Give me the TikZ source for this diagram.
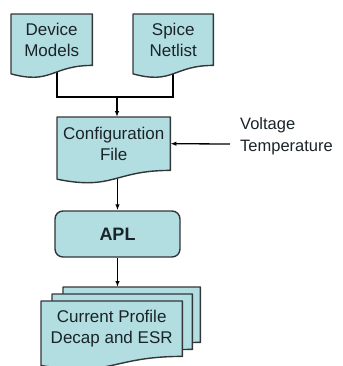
\documentclass[tikz,border=0pt]{standalone}
\usepackage{fontspec}
\setmainfont{Liberation Sans}
\usetikzlibrary{calc,arrows.meta}
\pgfdeclarelayer{bg}\pgfdeclarelayer{mid}
\pgfsetlayers{bg,mid,main}
\definecolor{boxfill}{RGB}{178,222,226}
\definecolor{boxline}{RGB}{50,54,56}
\definecolor{txt}{RGB}{26,36,40}
\tikzset{
  docline/.style={draw=boxline, line width=1.4bp, fill=boxfill, line join=round},
  docnode/.style={anchor=north west, inner sep=0pt, align=center, text=txt,
    font=\fontsize{17bp}{21bp}\selectfont},
  aplbox/.style={draw=boxline, line width=1.4bp, fill=boxfill, rounded corners=8bp,
    minimum width=125bp, minimum height=46bp, inner sep=0pt, text=txt,
    font=\fontsize{18bp}{21bp}\selectfont\bfseries},
  sidetext/.style={anchor=west, inner sep=0pt, align=left, text=txt,
    font=\fontsize{16.5bp}{22bp}\selectfont},
  arr/.style={draw=black, line width=1.3bp, -{Latex[length=6bp,width=4.5bp]}},
  joinline/.style={draw=black, line width=2.6bp, line join=miter}
}
\newcommand\docshape[1]{%
  \begin{pgfonlayer}{mid}
    \draw[docline] (#1.north west) -- (#1.north east) -- (#1.south east)
      .. controls (#1.south) and ($(#1.north)!1.38!(#1.south)$) ..
      ($(#1.north west)!1.1646!(#1.south west)$) -- cycle;
  \end{pgfonlayer}}
\begin{document}
\begin{tikzpicture}[x=1bp,y=-1bp]
  \useasboundingbox (0,0) rectangle (343,366);
  % documents
  \node[docnode, minimum width=81bp, minimum height=51bp] (dev) at (11,14) {Device\\Models};
  \node[docnode, minimum width=80bp, minimum height=51bp] (spi) at (133,14) {Spice\\Netlist};
  \node[docnode, minimum width=113bp, minimum height=53bp] (conf) at (57,117) {Configuration\\File};
  \node[docnode, minimum width=137bp, minimum height=55bp] (back) at (63,287) {};
  \node[docnode, minimum width=140bp, minimum height=55bp] (midd) at (52,294) {};
  \node[docnode, minimum width=141bp, minimum height=55bp] (front) at (41,301) {Current Profile\\Decap and ESR};
  \docshape{dev}
  \docshape{spi}
  \docshape{conf}
  \docshape{back}
  \docshape{midd}
  \docshape{front}
  % APL
  \node[aplbox] (apl) at (117.5,234) {APL};
  % side text
  \node[sidetext] (vt) at (240,136) {Voltage\\Temperature};
  \coordinate (vin) at (230,144);
  \coordinate (m) at (117,97);
  % connectors
  \begin{pgfonlayer}{bg}
    \draw[joinline] ([xshift=5.5bp]dev.center) |- (spi.center |- m) -- (spi.center);
    \draw[arr] (m) -- (m |- conf.north);
    \draw[arr] (apl.north |- conf.center) -- (apl.north);
    \draw[arr] (apl.south) -- (apl.south |- back.north);
  \end{pgfonlayer}
  \draw[arr] (vin) -- (conf.east);
\end{tikzpicture}
\end{document}
